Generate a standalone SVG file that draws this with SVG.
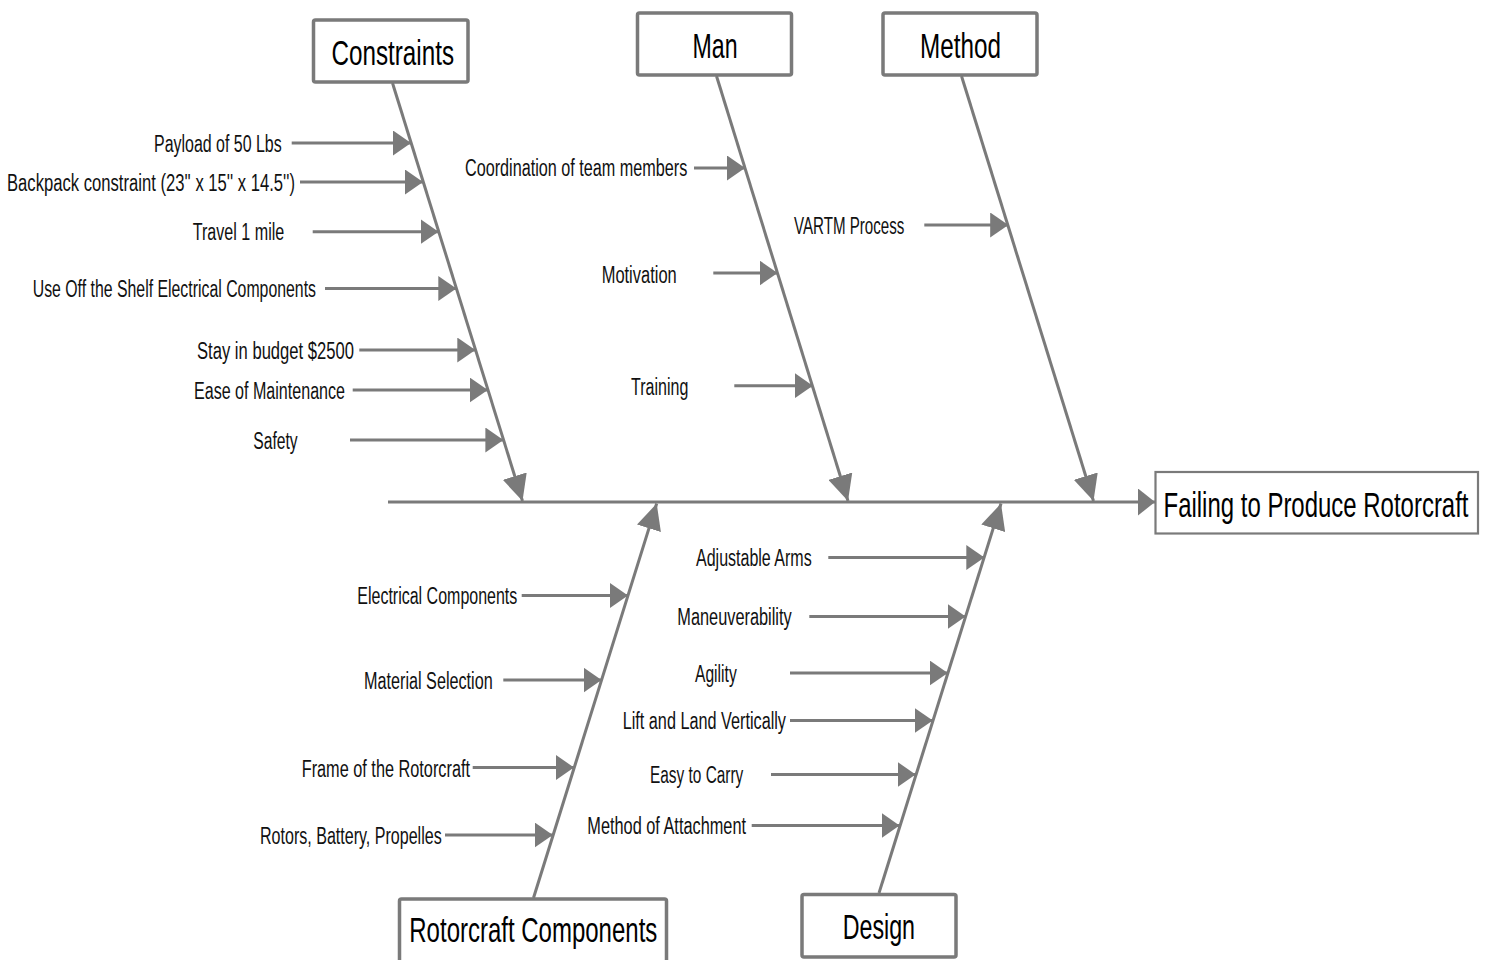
<svg xmlns="http://www.w3.org/2000/svg" width="1489" height="960" viewBox="0 0 1489 960">
<style>
.bx{fill:#ffffff;stroke:#7a7a7a;stroke-width:3.5}
.ef{fill:#ffffff;stroke:#7a7a7a;stroke-width:2.2}
.ln{stroke:#7a7a7a;stroke-width:3;fill:none}
.cat{font-family:"Liberation Sans",Arial,sans-serif;font-size:35px;fill:#000}
.lb{font-family:"Liberation Sans",Arial,sans-serif;font-size:23px;fill:#111}
</style>
<defs>
<marker id="ah" viewBox="0 0 18 25" refX="18" refY="12.5" markerWidth="18" markerHeight="25" markerUnits="userSpaceOnUse" orient="auto">
<path d="M0,0 L18,12.5 L0,25 z" fill="#7a7a7a"/>
</marker>
<marker id="bh" viewBox="0 0 26 25" refX="26" refY="12.5" markerWidth="26" markerHeight="25" markerUnits="userSpaceOnUse" orient="auto">
<path d="M0,0 L26,12.5 L0,25 z" fill="#7a7a7a"/>
</marker>
<marker id="sh" viewBox="0 0 17 27" refX="17" refY="13.5" markerWidth="17" markerHeight="27" markerUnits="userSpaceOnUse" orient="auto">
<path d="M0,0 L17,13.5 L0,27 z" fill="#7a7a7a"/>
</marker>
</defs>
<rect width="1489" height="960" fill="#ffffff"/>

<g id="connectors">
<line class="ln" x1="388" y1="502" x2="1155" y2="502" marker-end="url(#sh)"/>
<line class="ln" x1="392.5" y1="83" x2="522.5" y2="501" marker-end="url(#bh)"/>
<line class="ln" x1="716.5" y1="76" x2="848" y2="501" marker-end="url(#bh)"/>
<line class="ln" x1="961.5" y1="76" x2="1093.5" y2="501" marker-end="url(#bh)"/>
<line class="ln" x1="533.5" y1="898" x2="656.7" y2="503.5" marker-end="url(#bh)"/>
<line class="ln" x1="879" y1="893" x2="1001" y2="503.5" marker-end="url(#bh)"/>

<line class="ln" x1="291.7" y1="143" x2="411" y2="143" marker-end="url(#ah)"/>
<line class="ln" x1="300" y1="182" x2="423" y2="182" marker-end="url(#ah)"/>
<line class="ln" x1="312.7" y1="231.7" x2="438.5" y2="231.7" marker-end="url(#ah)"/>
<line class="ln" x1="325" y1="288.5" x2="456.3" y2="288.5" marker-end="url(#ah)"/>
<line class="ln" x1="359.3" y1="350" x2="475.3" y2="350" marker-end="url(#ah)"/>
<line class="ln" x1="352.7" y1="390" x2="487.8" y2="390" marker-end="url(#ah)"/>
<line class="ln" x1="350" y1="440" x2="503.4" y2="440" marker-end="url(#ah)"/>

<line class="ln" x1="694" y1="168" x2="745" y2="168" marker-end="url(#ah)"/>
<line class="ln" x1="713.3" y1="273" x2="777.6" y2="273" marker-end="url(#ah)"/>
<line class="ln" x1="734.3" y1="385.7" x2="812.8" y2="385.7" marker-end="url(#ah)"/>

<line class="ln" x1="924.3" y1="225" x2="1008.2" y2="225" marker-end="url(#ah)"/>

<line class="ln" x1="521.7" y1="595.5" x2="628" y2="595.5" marker-end="url(#ah)"/>
<line class="ln" x1="503.3" y1="680" x2="601.5" y2="680" marker-end="url(#ah)"/>
<line class="ln" x1="472.7" y1="767.5" x2="574" y2="767.5" marker-end="url(#ah)"/>
<line class="ln" x1="445" y1="835" x2="552.8" y2="835" marker-end="url(#ah)"/>

<line class="ln" x1="828.3" y1="557.5" x2="984.3" y2="557.5" marker-end="url(#ah)"/>
<line class="ln" x1="809.3" y1="616.5" x2="965.6" y2="616.5" marker-end="url(#ah)"/>
<line class="ln" x1="790" y1="673" x2="947.8" y2="673" marker-end="url(#ah)"/>
<line class="ln" x1="790" y1="720.5" x2="932.8" y2="720.5" marker-end="url(#ah)"/>
<line class="ln" x1="771" y1="774.5" x2="915.6" y2="774.5" marker-end="url(#ah)"/>
<line class="ln" x1="751.7" y1="825.5" x2="899.5" y2="825.5" marker-end="url(#ah)"/>
</g>

<g id="node-constraints">
<rect class="bx" x="313.5" y="20" width="154.5" height="62" rx="2"/>
<text class="cat" x="331.5" y="65" textLength="122.5" lengthAdjust="spacingAndGlyphs">Constraints</text>
</g>
<g id="node-man">
<rect class="bx" x="637.5" y="13" width="154" height="62" rx="2"/>
<text class="cat" x="692.5" y="57.5" textLength="45" lengthAdjust="spacingAndGlyphs">Man</text>
</g>
<g id="node-method">
<rect class="bx" x="883" y="13" width="154" height="62" rx="2"/>
<text class="cat" x="920" y="57.5" textLength="81" lengthAdjust="spacingAndGlyphs">Method</text>
</g>
<g id="node-effect">
<rect class="ef" x="1155.5" y="472" width="322.5" height="61.5"/>
<text class="cat" transform="translate(1163.5,516.5) scale(0.685,1)" x="0" y="0">Failing to Produce Rotorcraft</text>
</g>
<g id="node-rotorcraft">
<rect class="bx" x="399.5" y="899" width="267" height="66" rx="2"/>
<text class="cat" x="409.3" y="942" textLength="248" lengthAdjust="spacingAndGlyphs">Rotorcraft Components</text>
</g>
<g id="node-design">
<rect class="bx" x="802" y="894.5" width="154" height="62.5" rx="2"/>
<text class="cat" x="842.7" y="939" textLength="72.3" lengthAdjust="spacingAndGlyphs">Design</text>
</g>

<g id="labels-constraints">
<text class="lb" x="154" y="152" textLength="127.7" lengthAdjust="spacingAndGlyphs">Payload of 50 Lbs</text>
<text class="lb" x="7" y="190.5" textLength="288" lengthAdjust="spacingAndGlyphs">Backpack constraint (23'' x 15'' x 14.5'')</text>
<text class="lb" x="192.7" y="240" textLength="91.6" lengthAdjust="spacingAndGlyphs">Travel 1 mile</text>
<text class="lb" x="32.7" y="297" textLength="283.3" lengthAdjust="spacingAndGlyphs">Use Off the Shelf Electrical Components</text>
<text class="lb" x="197" y="358.5" textLength="157" lengthAdjust="spacingAndGlyphs">Stay in budget $2500</text>
<text class="lb" x="194" y="398.5" textLength="151" lengthAdjust="spacingAndGlyphs">Ease of Maintenance</text>
<text class="lb" x="253.3" y="449" textLength="44.4" lengthAdjust="spacingAndGlyphs">Safety</text>
</g>
<g id="labels-man">
<text class="lb" x="465" y="176" textLength="222.3" lengthAdjust="spacingAndGlyphs">Coordination of team members</text>
<text class="lb" x="601.7" y="282.5" textLength="75" lengthAdjust="spacingAndGlyphs">Motivation</text>
<text class="lb" x="631" y="395" textLength="57.3" lengthAdjust="spacingAndGlyphs">Training</text>
</g>
<g id="labels-method">
<text class="lb" x="794" y="233.5" textLength="110.3" lengthAdjust="spacingAndGlyphs">VARTM Process</text>
</g>
<g id="labels-rotorcraft">
<text class="lb" x="357.3" y="604" textLength="160" lengthAdjust="spacingAndGlyphs">Electrical Components</text>
<text class="lb" x="364" y="689" textLength="128.7" lengthAdjust="spacingAndGlyphs">Material Selection</text>
<text class="lb" x="301.7" y="776.5" textLength="168.3" lengthAdjust="spacingAndGlyphs">Frame of the Rotorcraft</text>
<text class="lb" x="260" y="844" textLength="181.7" lengthAdjust="spacingAndGlyphs">Rotors, Battery, Propelles</text>
</g>
<g id="labels-design">
<text class="lb" x="696" y="566" textLength="115.7" lengthAdjust="spacingAndGlyphs">Adjustable Arms</text>
<text class="lb" x="677.3" y="625" textLength="114.4" lengthAdjust="spacingAndGlyphs">Maneuverability</text>
<text class="lb" x="695" y="681.5" textLength="41.7" lengthAdjust="spacingAndGlyphs">Agility</text>
<text class="lb" x="622.7" y="729" textLength="163.3" lengthAdjust="spacingAndGlyphs">Lift and Land Vertically</text>
<text class="lb" x="650" y="782.7" textLength="93.3" lengthAdjust="spacingAndGlyphs">Easy to Carry</text>
<text class="lb" x="587.3" y="834" textLength="158.7" lengthAdjust="spacingAndGlyphs">Method of Attachment</text>
</g>
</svg>
